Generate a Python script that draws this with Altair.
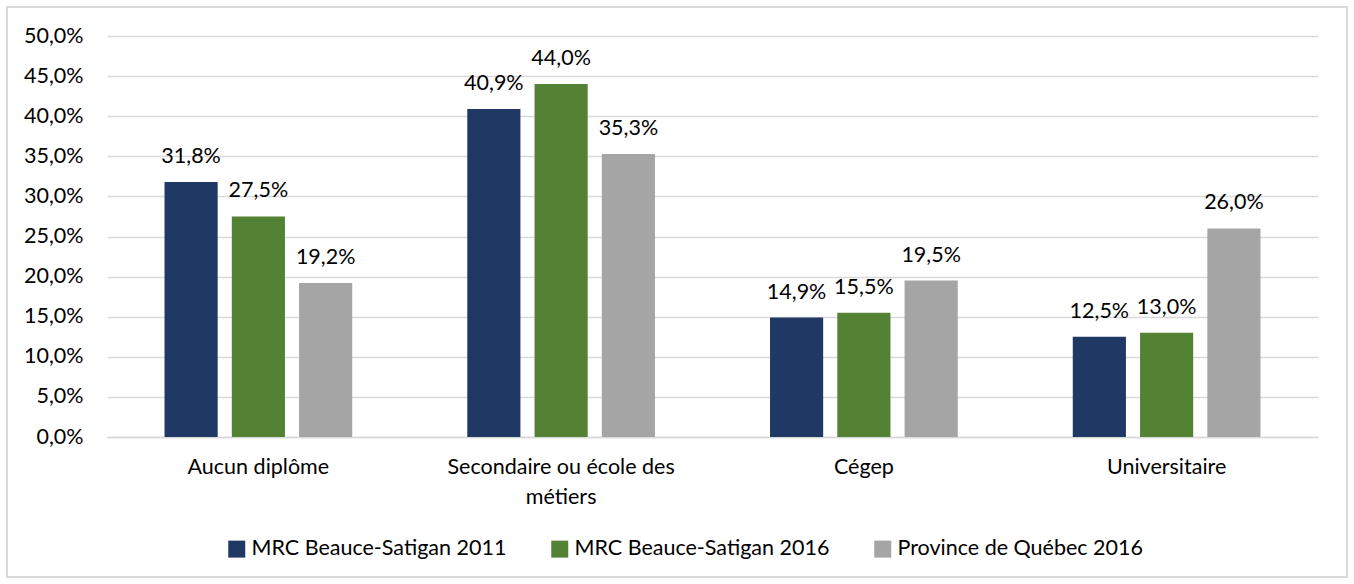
import altair as alt
import pandas as pd

categories = ["Aucun diplôme", "Secondaire ou école des métiers", "Cégep", "Universitaire"]
series = ["MRC Beauce-Satigan 2011", "MRC Beauce-Satigan 2016", "Province de Québec 2016"]
values_2011 = [31.8, 40.9, 14.9, 12.5]
values_2016 = [27.5, 44.0, 15.5, 13.0]
values_qc = [19.2, 35.3, 19.5, 26.0]
colors = ["#203864", "#548235", "#A5A5A5"]

rows = []
for s, vals in zip(series, [values_2011, values_2016, values_qc]):
    for c, v in zip(categories, vals):
        rows.append({"cat": c, "serie": s, "val": v})
df = pd.DataFrame(rows)

FONT = "Lato"
FS = 21.5

base = alt.Chart(df).encode(
    x=alt.X("cat:N", sort=categories, title=None,
            scale=alt.Scale(paddingInner=0.38, paddingOuter=0.19),
            axis=alt.Axis(labelAngle=0, ticks=False, domainColor="#D9D9D9", domainWidth=1.5,
                          labelPadding=30, labelFontSize=FS, labelFont=FONT, labelColor="#000",
                          labelLimit=400, labelLineHeight=30, labelBaseline="middle",
                          labelExpr="datum.label == 'Secondaire ou école des métiers' ? ['Secondaire ou école des', 'métiers'] : datum.label")),
    xOffset=alt.XOffset("serie:N", sort=series, scale=alt.Scale(paddingInner=0.21, paddingOuter=0)),
)

bars = base.mark_bar().encode(
    y=alt.Y("val:Q", title=None,
            scale=alt.Scale(domain=[0, 50], nice=False),
            axis=alt.Axis(values=[0, 5, 10, 15, 20, 25, 30, 35, 40, 45, 50], ticks=False, domain=False,
                          gridColor="#D9D9D9", gridWidth=1.5, labelPadding=24,
                          labelFontSize=FS, labelFont=FONT, labelColor="#000",
                          labelExpr="replace(format(datum.value, '.1f'), '.', ',') + '%'")),
    color=alt.Color("serie:N", sort=series, scale=alt.Scale(domain=series, range=colors),
                    legend=alt.Legend(title=None, orient="none", direction="horizontal",
                                      legendX=119, legendY=502,
                                      symbolType="square", symbolSize=289, symbolStrokeWidth=0,
                                      labelFontSize=FS, labelFont=FONT, labelColor="#000",
                                      labelOffset=4, columnPadding=42, labelLimit=400)),
)

labels = base.mark_text(dy=-25, fontSize=FS, font=FONT, color="#000").transform_calculate(
    lab="replace(format(datum.val, '.1f'), '.', ',') + '%'"
).encode(
    y=alt.Y("val:Q"),
    text="lab:N",
)

border = alt.Chart(alt.Data(values=[{}])).mark_rect(fill=None, stroke="#D9D9D9", strokeWidth=2).encode(
    x=alt.value(-100), x2=alt.value(1240), y=alt.value(-29), y2=alt.value(541)
)

chart = alt.layer(border, bars, labels).properties(
    width=1211, height=401,
    autosize=alt.AutoSizeParams(type="none"),
    padding={"left": 107, "top": 36, "right": 36, "bottom": 147},
    background="white",
).configure_view(stroke=None)

chart.save("out.html", embed_options={"renderer": "svg", "actions": False})
